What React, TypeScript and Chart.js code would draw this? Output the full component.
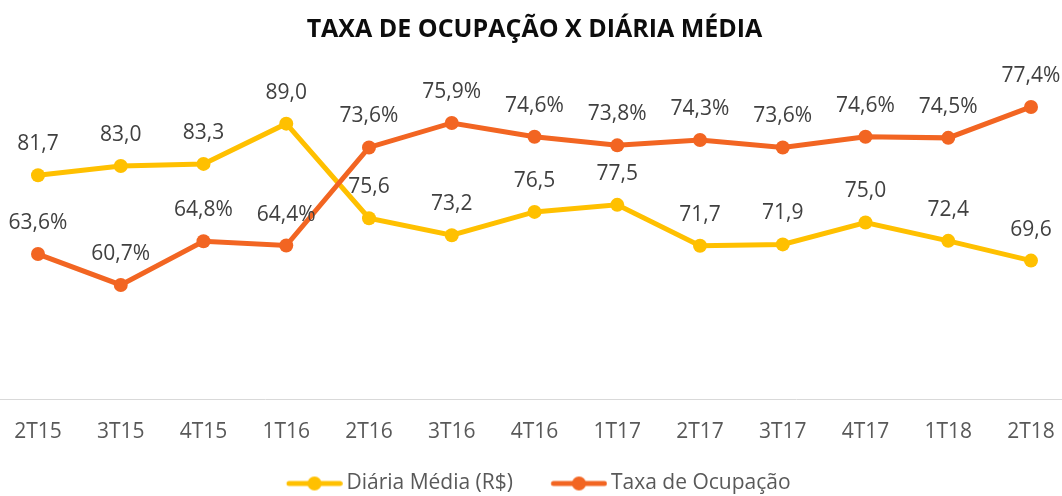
import React, { useEffect, useRef } from "react";
import { Chart, registerables } from "chart.js";

Chart.register(...registerables);

const chartTitle = "TAXA DE OCUPAÇÃO X DIÁRIA MÉDIA";
const categories = ["2T15", "3T15", "4T15", "1T16", "2T16", "3T16", "4T16", "1T17", "2T17", "3T17", "4T17", "1T18", "2T18"];
const diariaMedia = [81.7, 83.0, 83.3, 89.0, 75.6, 73.2, 76.5, 77.5, 71.7, 71.9, 75.0, 72.4, 69.6];
const taxaOcupacao = [63.6, 60.7, 64.8, 64.4, 73.6, 75.9, 74.6, 73.8, 74.3, 73.6, 74.6, 74.5, 77.4];
const seriesNames = ["Diária Média (R$)", "Taxa de Ocupação"];
const seriesSuffix = ["", "%"];
const seriesColors = ["#FFC000", "#F26522"];

const FONT = "'Open Sans', 'Noto Sans', sans-serif";

// Legend icon: line with a centred marker; content sits in the right part of the image
function makeLegendIcon(color: string): HTMLCanvasElement {
  const c = document.createElement("canvas");
  c.width = 71;
  c.height = 16;
  const ctx = c.getContext("2d")!;
  ctx.strokeStyle = color;
  ctx.lineWidth = 5;
  ctx.lineCap = "round";
  ctx.beginPath();
  ctx.moveTo(17.25, 8);
  ctx.lineTo(68.25, 8);
  ctx.stroke();
  ctx.fillStyle = color;
  ctx.beginPath();
  ctx.arc(42.75, 8, 7, 0, Math.PI * 2);
  ctx.fill();
  return c;
}

const fmt = (v: number, suffix: string) => v.toFixed(1).replace(".", ",") + suffix;

export default function App() {
  const canvasRef = useRef<HTMLCanvasElement | null>(null);

  useEffect(() => {
    const canvas = canvasRef.current;
    if (!canvas) return;
    const icons = seriesColors.map((c) => makeLegendIcon(c));

    const axisLinePlugin = {
      id: "axisLine",
      beforeDatasetsDraw(chart: any) {
        const { ctx, chartArea, width } = chart;
        ctx.save();
        ctx.strokeStyle = "#D9D9D9";
        ctx.lineWidth = 1;
        ctx.beginPath();
        const y = Math.round(chartArea.bottom) + 0.5;
        ctx.moveTo(0, y);
        ctx.lineTo(width, y);
        ctx.stroke();
        ctx.restore();
      },
    };

    const dataLabelPlugin = {
      id: "dataLabels",
      afterDatasetsDraw(chart: any) {
        const { ctx } = chart;
        ctx.save();
        ctx.font = `21px ${FONT}`;
        ctx.fillStyle = "#404040";
        ctx.textAlign = "center";
        ctx.textBaseline = "middle";
        chart.data.datasets.forEach((ds: any, di: number) => {
          const meta = chart.getDatasetMeta(di);
          meta.data.forEach((pt: any, i: number) => {
            ctx.fillText(fmt(ds.data[i], seriesSuffix[di]), pt.x, pt.y - 31);
          });
        });
        ctx.restore();
      },
    };

    const chart = new Chart(canvas, {
      type: "line",
      data: {
        labels: categories,
        datasets: [
          {
            label: seriesNames[0],
            data: diariaMedia,
            yAxisID: "y",
            borderColor: seriesColors[0],
            backgroundColor: seriesColors[0],
            borderWidth: 5,
            pointRadius: 7,
            pointBorderWidth: 0,
            pointBackgroundColor: seriesColors[0],
            tension: 0,
            order: 1,
          },
          {
            label: seriesNames[1],
            data: taxaOcupacao,
            yAxisID: "y1",
            borderColor: seriesColors[1],
            backgroundColor: seriesColors[1],
            borderWidth: 5,
            pointRadius: 7,
            pointBorderWidth: 0,
            pointBackgroundColor: seriesColors[1],
            tension: 0,
            order: 0,
          },
        ],
      },
      options: {
        responsive: false,
        animation: false,
        events: [],
        layout: { padding: { left: 38, right: 31, top: 0, bottom: 0 } },
        scales: {
          x: {
            type: "category",
            offset: false,
            grid: { display: false, drawTicks: false },
            border: { display: false },
            ticks: {
              autoSkip: false,
              maxRotation: 0,
              minRotation: 0,
              padding: 0,
              color: "#595959",
              font: { family: FONT, size: 21, lineHeight: 66 / 21 },
            },
            afterFit(scale: any) {
              scale.height = 44;
            },
          },
          y: { display: false, min: 50, max: 100 },
          y1: { display: false, min: 50, max: 83.12 },
        },
        plugins: {
          tooltip: { enabled: false },
          title: {
            display: true,
            text: chartTitle,
            color: "#0D0D0D",
            font: { family: FONT, size: 25, weight: "bold", lineHeight: 1.2 },
            padding: { top: 14.5, bottom: 1.5 },
          },
          legend: {
            display: true,
            position: "bottom",
            labels: {
              usePointStyle: true,
              pointStyleWidth: 57.5,
              padding: 30,
              color: "#595959",
              font: { family: FONT, size: 21 },
              sort: (a: any, b: any) => a.datasetIndex - b.datasetIndex,
              generateLabels(ch: any) {
                const items = Chart.defaults.plugins.legend.labels.generateLabels(ch);
                items.forEach((it: any) => {
                  it.pointStyle = icons[it.datasetIndex];
                });
                return items;
              },
            },
          },
        },
      } as any,
      plugins: [axisLinePlugin, dataLabelPlugin],
    });

    return () => chart.destroy();
  }, []);

  return (
    <div
      style={{
        position: "fixed",
        left: 0,
        top: 0,
        width: 1062,
        height: 496,
        overflow: "hidden",
        background: "#ffffff",
      }}
    >
      <canvas ref={canvasRef} width={1062} height={504} style={{ display: "block", width: 1062, height: 504 }} />
    </div>
  );
}
